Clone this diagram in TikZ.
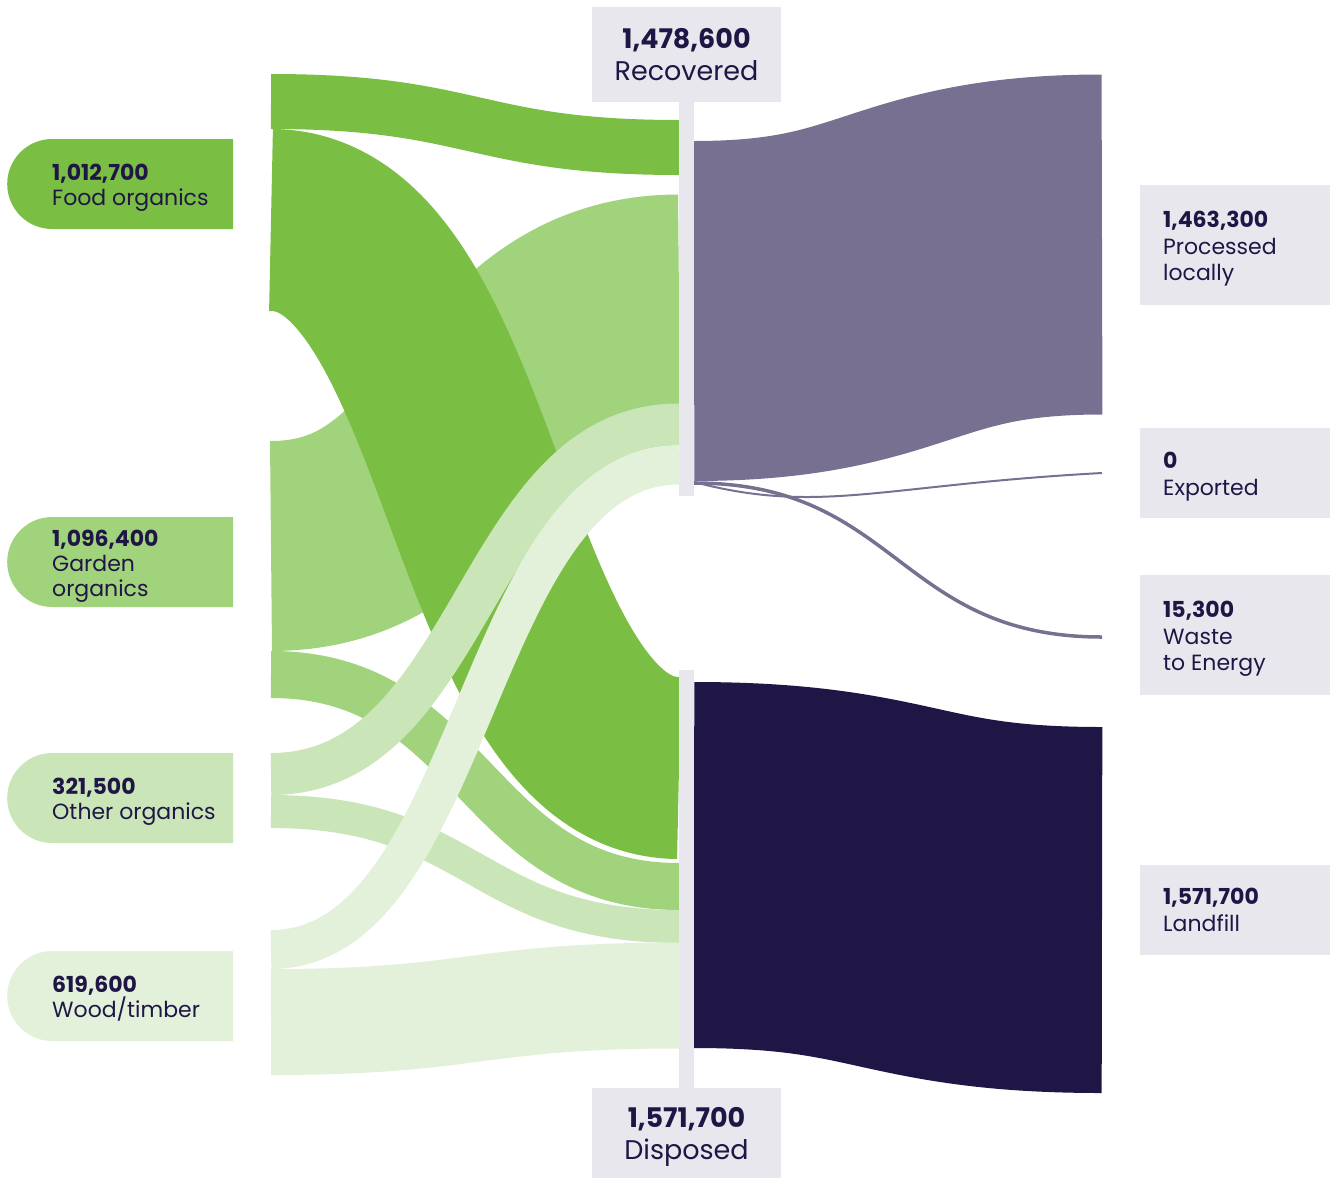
\documentclass[tikz,border=0pt]{standalone}
\usepackage{fontspec}
\setmainfont{Poppins}
\usetikzlibrary{shapes.misc}
\definecolor{foodc}{HTML}{7BBE44}
\definecolor{gardenc}{HTML}{A1D37D}
\definecolor{otherc}{HTML}{CAE6B8}
\definecolor{woodc}{HTML}{E3F1DA}
\definecolor{procc}{HTML}{787090}
\definecolor{landc}{HTML}{1F1646}
\definecolor{boxc}{HTML}{E8E7ED}
\definecolor{txtc}{HTML}{1F1646}
\begin{document}
\begin{tikzpicture}[x=1pt,y=-1pt,
  band/.style={line cap=butt, draw=#1},
  srcbox/.style={rounded rectangle, rounded rectangle right arc=none, fill=#1, minimum width=226pt, minimum height=90pt, inner sep=0pt, anchor=west, draw=none},
  greybox/.style={fill=boxc, inner sep=0pt, anchor=north west},
  lbl/.style={anchor=north west, inner sep=0pt, align=left, text=txtc, font=\fontsize{22}{25}\selectfont},
  rlbl/.style={anchor=north west, inner sep=0pt, align=left, text=txtc, font=\fontsize{22}{26.5}\selectfont},
  mlbl/.style={anchor=north, inner sep=0pt, align=center, text=txtc, font=\fontsize{27}{32}\selectfont},
]
\useasboundingbox (0,0) rectangle (1343,1179);

% source boxes
\node[srcbox=foodc] (foodbox) at (7,184) {};
\node[srcbox=gardenc] (gardenbox) at (7,562) {};
\node[srcbox=otherc] (otherbox) at (7,798) {};
\node[srcbox=woodc] (woodbox) at (7,996) {};

\node[lbl] (foodtxt) at (52,164) {\textbf{1,012,700}\\Food organics};
\node[lbl] (gardentxt) at (52,530) {\textbf{1,096,400}\\Garden\\organics};
\node[lbl] (othertxt) at (52,778) {\textbf{321,500}\\Other organics};
\node[lbl] (woodtxt) at (52,976) {\textbf{619,600}\\Wood/timber};

% flows into Recovered / Disposed
\draw[band=gardenc, line width=210pt] (271,546) .. controls (475,546) and (475,299.5) .. (679,299.5);
\draw[band=foodc, line width=55pt] (271,101.5) .. controls (475,101.5) and (475,147.5) .. (679,147.5);
\draw[band=foodc, line width=182pt] (271,220) .. controls (475,220) and (475,768) .. (679,768);
\draw[band=gardenc, line width=47pt] (271,674.5) .. controls (475,674.5) and (475,886.5) .. (679,886.5);
\draw[band=otherc, line width=33pt] (271,811.5) .. controls (475,811.5) and (475,926.5) .. (679,926.5);
\draw[band=otherc, line width=42pt] (271,774) .. controls (475,774) and (475,424.5) .. (679,424.5);
\draw[band=woodc, line width=106pt] (271,1022) .. controls (475,1022) and (475,995.5) .. (679,995.5);
\draw[band=woodc, line width=39pt] (271,949.5) .. controls (475,949.5) and (475,465) .. (679,465);

% flows out
\draw[band=procc, line width=340pt] (694,311) .. controls (898,311) and (898,244.5) .. (1102,244.5);
\draw[band=procc, line width=2pt] (694,482) .. controls (820,515) and (880,485) .. (1102,473);
\draw[band=procc, line width=3.5pt] (694,483) .. controls (898,483) and (898,637) .. (1102,637);
\draw[band=landc, line width=366pt] (694,865) .. controls (898,865) and (898,910) .. (1102,910);

% middle bars and boxes
\fill[boxc] (679,101) rectangle (694,496);
\fill[boxc] (679,670) rectangle (694,1088);
\node[greybox, minimum width=189pt, minimum height=95pt] (recbox) at (592,7) {};
\node[greybox, minimum width=189pt, minimum height=90pt] (disbox) at (592,1088) {};
\node[mlbl] (rectxt) at (686.5,28) {\textbf{1,478,600}\\Recovered};
\node[mlbl] (distxt) at (686.5,1107) {\textbf{1,571,700}\\Disposed};

% right boxes
\node[greybox, minimum width=190pt, minimum height=120pt] (procbox) at (1140,185) {};
\node[greybox, minimum width=190pt, minimum height=90pt] (expbox) at (1140,428) {};
\node[greybox, minimum width=190pt, minimum height=120pt] (w2ebox) at (1140,575) {};
\node[greybox, minimum width=190pt, minimum height=90pt] (landbox) at (1140,865) {};

\node[rlbl] (proctxt) at (1163,211) {\textbf{1,463,300}\\Processed\\locally};
\node[rlbl] (exptxt) at (1163,452) {\textbf{0}\\Exported};
\node[rlbl] (w2etxt) at (1163,601) {\textbf{15,300}\\Waste\\to Energy};
\node[rlbl] (landtxt) at (1163,888) {\textbf{1,571,700}\\Landfill};
\end{tikzpicture}
\end{document}
